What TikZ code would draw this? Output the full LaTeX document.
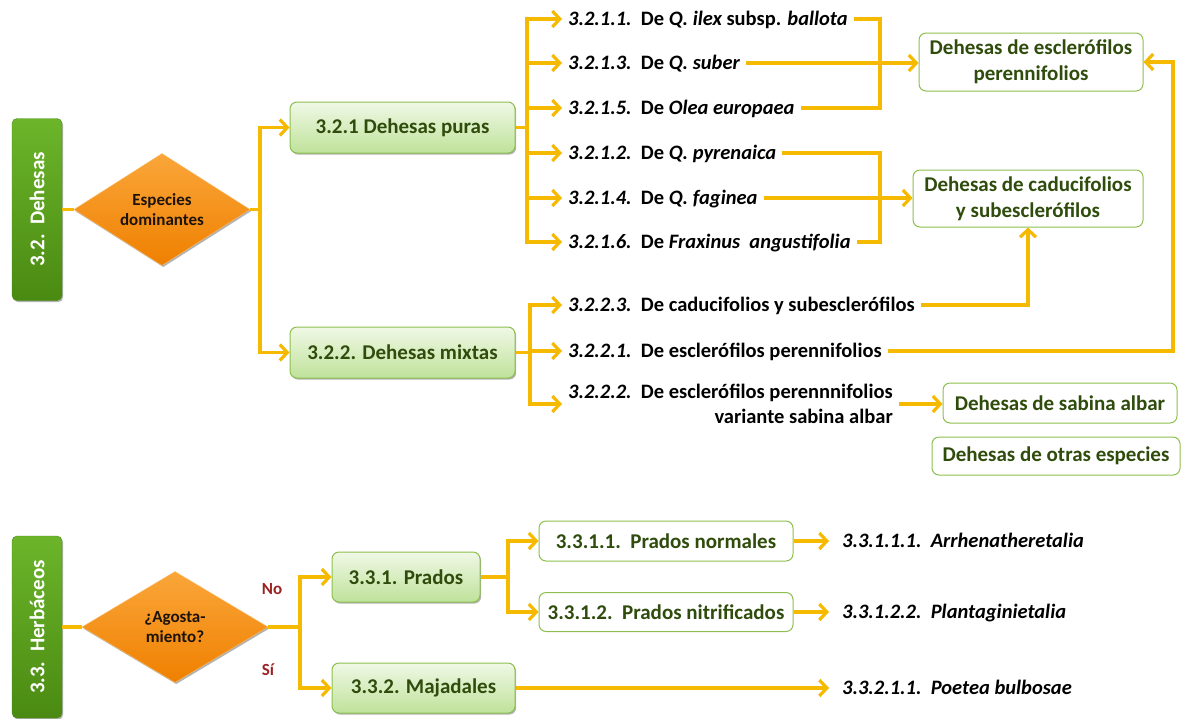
\documentclass[tikz,border=0pt]{standalone}
\usepackage{fontspec}
\setmainfont{Carlito}
\usetikzlibrary{shapes.geometric,arrows.meta,shadows,calc}
\definecolor{gold}{HTML}{F5BA00}
\definecolor{boxtxt}{HTML}{2F4C0C}
\definecolor{boxedge}{HTML}{8DBF4E}
\definecolor{gtop}{HTML}{F0F8E6}
\definecolor{gbot}{HTML}{BFE29A}
\definecolor{secA}{HTML}{6CB52A}
\definecolor{secB}{HTML}{4A8A12}
\definecolor{orA}{HTML}{FAA63A}
\definecolor{orB}{HTML}{EF8000}
\definecolor{nored}{HTML}{9B2222}
\begin{document}
\begin{tikzpicture}[x=1pt,y=-1pt,
  shd/.style={drop shadow={shadow xshift=1.2pt,shadow yshift=-1.6pt,opacity=.3,fill=black}},
  sect/.style={rotate=90, rounded corners=5pt, top color=secA, bottom color=secB, draw=secB,
    text=white, font=\fontsize{21}{25}\selectfont\bfseries, minimum width=182pt, minimum height=50pt,
    inner sep=0pt, shd},
  dec/.style={diamond, aspect=1.6, inner sep=0pt, top color=orA, bottom color=orB, draw=orA!80,
    text=black!85!brown, font=\fontsize{17}{20}\selectfont\bfseries, align=center, shd},
  gbox/.style={rounded corners=7pt, top color=gtop, bottom color=gbot, draw=boxedge, line width=1pt,
    text=boxtxt, font=\fontsize{21}{26}\selectfont\bfseries, inner sep=0pt, align=center, shd},
  wbox/.style={rounded corners=7pt, fill=white, draw=boxedge, line width=1pt,
    text=boxtxt, font=\fontsize{21}{26}\selectfont\bfseries, inner sep=0pt, align=center},
  lab/.style={anchor=west, inner xsep=6pt, inner ysep=0pt, text height=13pt, text depth=0pt,
    font=\fontsize{20.5}{26}\selectfont\bfseries},
  labm/.style={anchor=west, inner xsep=6pt, inner ysep=0pt, align=right,
    font=\fontsize{20.5}{25.5}\selectfont\bfseries},
  tag/.style={text=nored, font=\fontsize{17}{20}\selectfont\bfseries, inner sep=0pt},
  ln/.style={draw=gold, line width=3.2pt},
  arr/.style={ln, -{Straight Barb[length=7.5pt,width=16pt]}}
]
\useasboundingbox (0,0) rectangle (1183,718);

% ---------- 3.2 Dehesas ----------
\node[sect] (s32) at (37,209.5) {3.2.\ \ Dehesas};
\node[dec, minimum width=176pt, minimum height=112pt] (d32) at (162,209.5) {Especies\\dominantes};
\coordinate (j1) at (260,209.5);

\node[gbox, minimum width=225pt, minimum height=51pt] (b321) at (402.5,127.5) {3.2.1 Dehesas puras};
\node[gbox, minimum width=225pt, minimum height=51pt] (b322) at (402.5,352.5) {3.2.2. Dehesas mixtas};

\node[lab] (l1) at (562,19) {{\itshape 3.2.1.1.}\ \ De {\itshape Q. ilex} subsp. {\itshape ballota}};
\node[lab] (l2) at (562,63) {{\itshape 3.2.1.3.}\ \ De {\itshape Q. suber}};
\node[lab] (l3) at (562,108) {{\itshape 3.2.1.5.}\ \ De {\itshape Olea europaea}};
\node[lab] (l4) at (562,153) {{\itshape 3.2.1.2.}\ \ De {\itshape Q. pyrenaica}};
\node[lab] (l5) at (562,198) {{\itshape 3.2.1.4.}\ \ De {\itshape Q. faginea}};
\node[lab] (l6) at (562,242) {{\itshape 3.2.1.6.}\ \ De {\itshape Fraxinus\ \ angustifolia}};

\node[lab] (m3) at (562,305) {{\itshape 3.2.2.3.}\ \ De caducifolios y subesclerófilos};
\node[lab] (m1) at (562,351) {{\itshape 3.2.2.1.}\ \ De esclerófilos perennifolios};
\node[labm] (m2) at (562,404) {{\itshape 3.2.2.2.}\ \ De esclerófilos perennnifolios\\variante sabina albar};

\node[wbox, minimum width=224pt, minimum height=58pt] (e1) at (1031,62) {Dehesas de esclerófilos\\perennifolios};
\node[wbox, minimum width=230pt, minimum height=57pt] (e2) at (1028,198.5) {Dehesas de caducifolios\\y subesclerófilos};
\node[wbox, minimum width=234pt, minimum height=40pt] (e3) at (1060,403) {Dehesas de sabina albar};
\node[wbox, minimum width=248pt, minimum height=38pt] (e4) at (1056,456) {Dehesas de otras especies};

\draw[ln] (s32) -- (d32);
\draw[ln] (d32.east) -- (j1);
\draw[arr] (j1) |- (b321.west);
\draw[arr] (j1) |- (b322.west);

\coordinate (j2) at (527,127.5);
\draw[ln] (b321.east) -- (j2);
\foreach \n in {l1,l2,l3,l4,l5,l6} \draw[arr] (j2) |- (\n.west);

\coordinate (j3) at (530,352.5);
\draw[ln] (b322.east) -- (j3);
\foreach \n in {m3,m1,m2} \draw[arr] (j3) |- (\n.west);

\coordinate (k1) at (880,108);
\draw[ln] (l1.east) -| (k1) -- (l3.east);
\draw[arr] (l2.east) -- (l2.east -| e1.west);
\coordinate (k2) at (880,242);
\draw[ln] (l4.east) -| (k2) -- (l6.east);
\draw[arr] (l5.east) -- (l5.east -| e2.west);

\draw[arr] (m3.east) -| (e2.south);
\coordinate (k3) at (1173,62);
\draw[arr] (m1.east) -| (k3) -- (e1.east);
\draw[arr] (m2.east) -- (m2.east -| e3.west);

% ---------- 3.3 Herbaceos ----------
\node[sect] (s33) at (37,627) {3.3.\ \ Herbáceos};
\node[dec, minimum width=186pt, minimum height=111pt] (d33) at (175,627) {¿Agosta-\\miento?};
\coordinate (j4) at (300,627);
\node[tag] (no) at (272,589) {No};
\node[tag] (si) at (268,670) {Sí};

\node[gbox, minimum width=148pt, minimum height=50pt] (p1) at (406,577) {3.3.1. Prados};
\node[gbox, minimum width=183pt, minimum height=50pt] (p2) at (423.5,688) {3.3.2. Majadales};
\coordinate (j5) at (508,577);
\node[wbox, minimum width=254pt, minimum height=40pt] (q1) at (666,541) {3.3.1.1.\ \ Prados normales};
\node[wbox, minimum width=254pt, minimum height=39pt] (q2) at (666,612) {3.3.1.2.\ \ Prados nitrificados};

\node[lab, inner xsep=13pt] (r1) at (829,541) {\itshape 3.3.1.1.1.\ \ Arrhenatheretalia};
\node[lab, inner xsep=13pt] (r2) at (829,612) {\itshape 3.3.1.2.2.\ \ Plantaginietalia};
\node[lab, inner xsep=13pt] (r3) at (829,688) {\itshape 3.3.2.1.1.\ \ Poetea bulbosae};

\draw[ln] (s33) -- (d33);
\draw[ln] (d33.east) -- (j4);
\draw[arr] (j4) |- (p1.west);
\draw[arr] (j4) |- (p2.west);
\draw[ln] (p1.east) -- (j5);
\draw[arr] (j5) |- (q1.west);
\draw[arr] (j5) |- (q2.west);
\draw[arr] (q1.east) -- (r1.west);
\draw[arr] (q2.east) -- (r2.west);
\draw[arr] (p2.east) -- (p2.east -| r3.west);
\end{tikzpicture}
\end{document}
